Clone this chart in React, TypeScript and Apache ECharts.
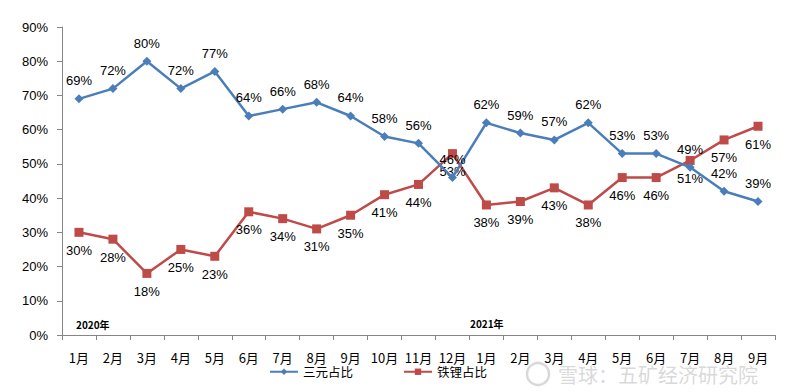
import React, { useEffect, useRef } from "react";
import * as echarts from "echarts";

const categories = ["1月","2月","3月","4月","5月","6月","7月","8月","9月","10月","11月","12月","1月","2月","3月","4月","5月","6月","7月","8月","9月"];
const ternary = [69,72,80,72,77,64,66,68,64,58,56,46,62,59,57,62,53,53,49,42,39];
const lfp = [30,28,18,25,23,36,34,31,35,41,44,53,38,39,43,38,46,46,51,57,61];
const yTicks = [0,10,20,30,40,50,60,70,80,90];
const yearLabels = ["2020年", "2021年"];
const seriesNames = ["三元占比", "铁锂占比"];

const FONT = "'Liberation Sans', 'Noto Sans CJK SC', sans-serif";
const CJK = "'Noto Sans CJK SC', sans-serif";

export default function App() {
  const ref = useRef<HTMLDivElement>(null);
  useEffect(() => {
    const chart = echarts.init(ref.current!, null, { renderer: "svg" });
    chart.setOption({
      animation: false,
      textStyle: { fontFamily: FONT },
      grid: { left: 54, right: 17, top: 19, bottom: 57 },
      legend: {
        bottom: 9,
        left: 256,
        itemGap: 50,
        itemWidth: 28,
        itemHeight: 8,
        textStyle: { fontSize: 12.5, color: "#000", fontFamily: CJK },
        data: seriesNames,
      },
      xAxis: {
        type: "category",
        data: categories,
        boundaryGap: true,
        axisLine: { lineStyle: { color: "#868686" } },
        axisTick: { show: true, length: 5, inside: false, lineStyle: { color: "#868686" } },
        axisLabel: { color: "#000", fontSize: 13, margin: 16, interval: 0, fontFamily: CJK },
      },
      yAxis: {
        type: "value",
        min: 0,
        max: 90,
        interval: 10,
        axisLine: { show: true, lineStyle: { color: "#868686" } },
        axisTick: { show: true, length: 5, lineStyle: { color: "#868686" } },
        splitLine: { show: false },
        axisLabel: {
          color: "#000",
          fontSize: 13,
          margin: 14,
          formatter: (v: number) => (yTicks.includes(v) ? v + "%" : ""),
        },
      },
      series: [
        {
          name: seriesNames[0],
          type: "line",
          data: ternary,
          symbol: "diamond",
          symbolSize: 9,
          itemStyle: { color: "#4a7ebb" },
          lineStyle: { color: "#4a7ebb", width: 2.5 },
          label: {
            show: true,
            position: "top",
            distance: 7,
            fontSize: 13,
            color: "#000",
            formatter: (p: any) => p.value + "%",
          },
          z: 3,
        },
        {
          name: seriesNames[1],
          type: "line",
          data: lfp,
          symbol: "rect",
          symbolSize: 9,
          itemStyle: { color: "#be4b48" },
          lineStyle: { color: "#be4b48", width: 2.5 },
          label: {
            show: true,
            position: "bottom",
            distance: 7,
            fontSize: 13,
            color: "#000",
            formatter: (p: any) => p.value + "%",
          },
          z: 2,
        },
      ],
      graphic: [
        {
          type: "text",
          left: 68,
          top: 311,
          style: { text: yearLabels[0], fontSize: 10, fontWeight: "bold", fill: "#000", fontFamily: CJK },
        },
        {
          type: "text",
          left: 462,
          top: 310,
          style: { text: yearLabels[1], fontSize: 10, fontWeight: "bold", fill: "#000", fontFamily: CJK },
        },
        {
          type: "circle",
          shape: { cx: 530, cy: 366, r: 11 },
          style: { fill: "none", stroke: "rgba(170,170,170,0.45)", lineWidth: 2.5 },
        },
        {
          type: "text",
          left: 550,
          top: 356,
          style: { text: "雪球：五矿经济研究院", fontSize: 20, fill: "rgba(170,170,170,0.45)", fontFamily: CJK },
        },
      ],
    });
    return () => chart.dispose();
  }, []);
  return <div ref={ref} style={{ width: 784, height: 384 }} />;
}
